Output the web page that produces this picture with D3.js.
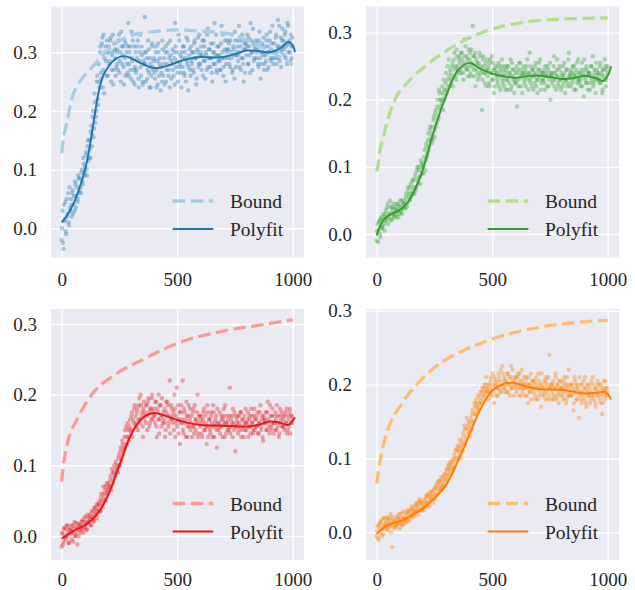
<!DOCTYPE html>
<html><head><meta charset="utf-8">
<script src="https://cdn.jsdelivr.net/npm/d3@7/dist/d3.min.js"></script>
<style>body{margin:0;background:#fff}svg{display:block}</style>
</head><body><svg id="c" width="635" height="590"></svg>
<script>
// ---------- data ----------
const xTicks = [0, 500, 1000];
const yTicks = [0.0, 0.1, 0.2, 0.3];
const legendLabels = ["Bound", "Polyfit"];
const scatterXA = d3.range(0, 1001, 4);   // x of set A
const scatterXB = d3.range(2, 1000, 4);   // x of set B

const scatterTL = [-.02,.03,-.035,.012,.045,-.01,.02,.06,.005,.035,
.05,.02,.065,.04,.03,.075,.055,.045,.09,.06,
.085,.06,.1,.075,.11,.09,.125,.1,.14,.115,
.15,.12,.175,.16,.2,.17,.215,.19,.25,.22,
.28,.24,.31,.255,.325,.27,.23,.3,.285,.32,
.26,.31,.285,.325,.27,.3,.245,.315,.29,.275,
.305,.27,.33,.285,.25,.31,.295,.275,.32,.26,
.3,.265,.35,.28,.31,.255,.29,.32,.27,.245,
.3,.27,.31,.255,.285,.33,.26,.295,.245,.28,
.36,.25,.29,.27,.305,.24,.28,.26,.315,.275,
.29,.255,.31,.27,.245,.3,.28,.235,.265,.32,
.26,.29,.3,.25,.28,.315,.27,.24,.295,.285,
.305,.26,.29,.35,.275,.3,.25,.32,.28,.265,
.3,.275,.31,.26,.29,.325,.28,.235,.295,.27,
.31,.28,.3,.265,.32,.29,.255,.305,.275,.33,
.28,.31,.295,.26,.32,.285,.3,.27,.34,.29,
.305,.275,.29,.25,.315,.3,.28,.33,.265,.295,
.31,.285,.27,.345,.3,.26,.29,.32,.28,.305,
.29,.315,.275,.3,.33,.27,.305,.255,.32,.295,
.31,.285,.345,.3,.27,.32,.29,.25,.315,.305,
.295,.33,.28,.31,.265,.32,.3,.34,.285,.31,
.32,.29,.305,.275,.335,.3,.28,.315,.295,.27,
.31,.285,.33,.3,.275,.32,.29,.305,.345,.28,
.315,.29,.33,.3,.355,.31,.285,.325,.3,.34,
.32,.295,.335,.31,.28,.345,.315,.3,.33,.29,
.31];
const scatterTL2 = [.0,-.025,.04,.015,-.005,.05,.025,.01,.07,.03,
.04,.06,.025,.055,.08,.035,.07,.05,.085,.065,
.07,.095,.08,.12,.095,.105,.13,.09,.15,.12,
.135,.165,.14,.19,.155,.23,.18,.2,.26,.21,
.25,.3,.265,.315,.24,.33,.29,.31,.26,.3,
.3,.28,.32,.25,.295,.33,.27,.305,.26,.3,
.28,.32,.265,.3,.335,.28,.31,.245,.29,.315,
.28,.31,.26,.3,.27,.335,.285,.25,.31,.275,
.265,.29,.32,.24,.3,.275,.31,.25,.285,.3,
.28,.3,.255,.32,.265,.29,.24,.31,.27,.285,
.265,.3,.24,.285,.315,.26,.29,.275,.25,.305,
.28,.245,.31,.27,.3,.26,.29,.32,.255,.28,
.27,.3,.245,.31,.285,.265,.33,.275,.295,.24,
.29,.31,.265,.3,.25,.285,.32,.275,.305,.26,
.285,.3,.27,.315,.29,.245,.3,.325,.28,.295,
.3,.27,.32,.285,.31,.255,.295,.33,.275,.305,
.29,.315,.265,.3,.28,.35,.295,.27,.31,.285,
.295,.27,.315,.29,.33,.275,.305,.25,.3,.32,
.305,.28,.32,.29,.265,.31,.295,.335,.275,.3,
.295,.32,.275,.31,.29,.33,.28,.305,.265,.315,
.31,.28,.325,.295,.35,.3,.27,.315,.29,.305,
.3,.315,.28,.32,.29,.255,.31,.3,.325,.28,
.295,.32,.27,.31,.3,.335,.285,.315,.29,.3,
.3,.325,.28,.31,.29,.345,.305,.275,.32,.31,
.305,.33,.29,.315,.35,.3,.32,.285,.31,.325];

const scatterTR = [-.01,.015,.005,.02,-.005,.025,.01,.03,.015,.02,
.035,.02,.045,.025,.03,.04,.02,.035,.045,.028,
.04,.025,.035,.045,.03,.04,.032,.05,.038,.045,
.05,.038,.06,.045,.07,.055,.05,.075,.06,.065,
.08,.06,.09,.07,.1,.075,.095,.085,.11,.09,
.105,.09,.125,.11,.135,.12,.15,.13,.16,.145,
.16,.14,.175,.155,.185,.165,.2,.175,.21,.19,
.2,.22,.185,.215,.205,.24,.21,.23,.26,.22,
.24,.225,.255,.235,.27,.25,.23,.265,.245,.26,
.255,.24,.27,.25,.23,.265,.28,.245,.26,.235,
.25,.27,.235,.255,.31,.245,.265,.22,.26,.24,
.25,.235,.265,.245,.185,.26,.24,.225,.255,.245,
.235,.25,.22,.26,.24,.23,.255,.21,.245,.235,
.24,.225,.255,.235,.215,.25,.23,.245,.22,.24,
.23,.25,.215,.24,.235,.26,.22,.245,.23,.21,
.24,.225,.19,.245,.23,.255,.22,.24,.235,.25,
.225,.245,.235,.26,.215,.24,.23,.25,.22,.245,
.24,.225,.255,.23,.21,.245,.235,.26,.225,.24,
.23,.245,.215,.24,.235,.25,.22,.24,.2,.235,
.225,.24,.265,.23,.215,.245,.235,.22,.25,.23,
.24,.22,.235,.255,.21,.23,.245,.225,.27,.235,
.22,.24,.23,.25,.215,.235,.245,.225,.26,.23,
.24,.22,.255,.235,.205,.245,.23,.25,.225,.24,
.235,.215,.25,.23,.265,.225,.24,.21,.245,.23,
.24,.225,.255,.235,.21,.245,.23,.26,.22,.245,
.25];
const scatterTR2 = [.005,-.012,.018,.0,.022,.008,.012,.025,.005,.03,
.025,.04,.015,.03,.05,.022,.04,.03,.025,.038,
.03,.045,.035,.025,.042,.05,.035,.03,.045,.04,
.045,.055,.04,.065,.05,.06,.07,.055,.08,.06,
.07,.085,.065,.095,.08,.1,.085,.075,.105,.1,
.1,.115,.095,.13,.115,.14,.125,.155,.14,.135,
.15,.17,.145,.18,.16,.19,.17,.215,.185,.2,
.195,.21,.23,.2,.225,.215,.25,.22,.235,.245,
.23,.25,.22,.26,.245,.235,.275,.25,.24,.265,
.245,.27,.26,.24,.255,.29,.25,.265,.245,.275,
.26,.24,.275,.25,.265,.235,.27,.245,.255,.23,
.255,.27,.24,.25,.23,.265,.25,.24,.22,.26,
.245,.225,.255,.24,.265,.23,.245,.22,.25,.24,
.23,.25,.22,.245,.24,.26,.225,.235,.25,.215,
.245,.23,.25,.225,.24,.215,.255,.235,.245,.225,
.23,.25,.24,.22,.255,.235,.245,.21,.24,.23,
.24,.22,.25,.23,.24,.27,.225,.235,.245,.215,
.235,.25,.22,.24,.23,.255,.245,.215,.24,.23,
.24,.225,.25,.235,.22,.245,.23,.255,.235,.24,
.23,.25,.22,.24,.235,.26,.225,.245,.23,.215,
.235,.25,.225,.24,.23,.245,.22,.26,.235,.24,
.245,.225,.25,.235,.24,.215,.255,.23,.24,.225,
.23,.245,.22,.24,.26,.235,.225,.245,.215,.24,
.24,.225,.25,.235,.22,.245,.23,.255,.235,.24,
.23,.25,.225,.24,.215,.245,.235,.25,.23,.24];

const scatterBL = [-.015,.005,-.008,.012,-.002,.01,.0,.015,-.01,.008,
.01,-.005,.015,.005,.02,.0,.012,-.012,.018,.008,
.015,.005,.022,.01,.02,.012,.028,.008,.018,.025,
.02,.03,.015,.028,.035,.022,.04,.03,.045,.035,
.04,.05,.035,.06,.045,.07,.055,.065,.05,.075,
.06,.075,.07,.085,.065,.09,.08,.1,.085,.095,
.1,.09,.115,.1,.125,.11,.13,.12,.14,.125,
.155,.13,.15,.14,.165,.145,.175,.15,.16,.185,
.17,.155,.18,.165,.195,.16,.185,.175,.14,.19,
.175,.16,.185,.17,.195,.155,.18,.165,.2,.175,
.18,.16,.19,.14,.175,.2,.165,.185,.155,.17,
.175,.16,.14,.19,.17,.185,.155,.22,.165,.18,
.16,.175,.2,.14,.17,.155,.185,.165,.13,.175,
.16,.22,.145,.175,.165,.19,.14,.17,.155,.18,
.16,.14,.175,.155,.185,.15,.165,.2,.145,.17,
.155,.17,.14,.165,.18,.15,.16,.13,.175,.155,
.165,.145,.175,.155,.185,.14,.16,.17,.125,.16,
.15,.175,.155,.165,.14,.17,.16,.185,.145,.16,
.165,.15,.21,.155,.17,.14,.16,.175,.12,.155,
.16,.145,.17,.155,.175,.15,.165,.14,.16,.18,
.15,.165,.14,.17,.155,.18,.16,.145,.17,.15,
.165,.155,.175,.145,.16,.185,.15,.17,.135,.165,
.16,.175,.15,.19,.165,.145,.17,.155,.18,.16,
.17,.15,.165,.185,.155,.14,.17,.16,.175,.155,
.165,.15,.175,.16,.145,.17,.155,.18,.16,.17,
.165];
const scatterBL2 = [.003,-.012,.01,.0,-.005,.015,.005,-.01,.01,.002,
.005,.015,-.008,.01,.0,.018,.005,.012,.0,.015,
.01,.02,.015,.005,.025,.015,.02,.01,.03,.02,
.025,.015,.035,.025,.02,.04,.03,.035,.025,.045,
.045,.035,.055,.05,.04,.06,.05,.07,.06,.065,
.07,.065,.08,.07,.095,.075,.09,.085,.105,.09,
.095,.11,.1,.12,.105,.135,.115,.125,.15,.13,
.14,.16,.135,.155,.15,.17,.14,.165,.18,.155,
.16,.175,.15,.185,.165,.2,.17,.155,.18,.165,
.17,.185,.15,.19,.175,.16,.18,.195,.165,.17,
.17,.19,.155,.18,.165,.145,.185,.17,.195,.16,
.165,.18,.15,.175,.19,.16,.17,.145,.185,.165,
.17,.15,.18,.16,.21,.165,.145,.175,.16,.185,
.165,.15,.18,.16,.14,.17,.155,.185,.165,.15,
.17,.155,.18,.145,.165,.16,.175,.14,.16,.17,
.165,.145,.16,.175,.15,.17,.155,.185,.14,.165,
.15,.17,.16,.14,.175,.155,.165,.15,.18,.155,
.16,.145,.17,.155,.165,.18,.14,.16,.17,.15,
.155,.17,.145,.165,.16,.18,.15,.17,.155,.165,
.17,.15,.16,.175,.14,.165,.155,.17,.15,.16,
.16,.175,.155,.165,.145,.17,.16,.15,.18,.165,
.155,.17,.145,.16,.175,.155,.165,.14,.17,.16,
.165,.15,.175,.16,.155,.185,.15,.17,.16,.145,
.16,.175,.15,.17,.16,.145,.18,.165,.155,.17,
.155,.17,.16,.18,.15,.165,.175,.145,.17,.16];

const scatterBR = [-.005,.008,-.01,.012,.0,.015,.005,-.003,.018,.008,
.01,.02,.003,.015,.008,.025,.012,-.02,.018,.005,
.015,.008,.022,.012,.018,.005,.025,.015,.01,.02,
.02,.012,.028,.018,.025,.015,.03,.022,.035,.025,
.03,.022,.038,.028,.035,.025,.042,.032,.04,.03,
.038,.03,.045,.035,.05,.04,.048,.035,.055,.045,
.05,.04,.058,.045,.062,.05,.068,.055,.07,.058,
.065,.058,.075,.062,.08,.07,.085,.075,.09,.08,
.09,.08,.098,.085,.105,.09,.112,.1,.118,.105,
.115,.1,.125,.11,.13,.145,.12,.14,.13,.15,
.14,.13,.155,.14,.165,.15,.17,.16,.175,.165,
.175,.165,.185,.175,.19,.18,.195,.185,.2,.19,
.195,.18,.2,.19,.21,.185,.2,.175,.205,.195,
.2,.185,.215,.195,.205,.19,.225,.2,.21,.195,
.205,.19,.215,.2,.185,.21,.195,.22,.2,.205,
.195,.21,.2,.215,.185,.205,.195,.22,.19,.2,
.2,.185,.21,.195,.175,.2,.19,.215,.195,.205,
.19,.205,.18,.2,.195,.215,.185,.2,.17,.195,
.195,.205,.185,.21,.19,.2,.18,.24,.195,.2,
.19,.205,.18,.195,.21,.185,.2,.175,.195,.205,
.19,.2,.18,.21,.195,.175,.2,.185,.22,.19,
.2,.185,.195,.165,.21,.19,.2,.18,.195,.155,
.185,.2,.175,.19,.205,.18,.195,.17,.2,.185,
.19,.175,.2,.185,.21,.18,.195,.17,.19,.205,
.185,.2,.175,.195,.16,.19,.205,.18,.195,.185,
.19];
const scatterBR2 = [.002,-.008,.01,.005,.015,-.005,.01,.02,.005,.012,
.015,.005,.02,.01,.018,.0,.022,.01,.015,.008,
.012,.02,.01,.018,.025,.012,.02,.01,.028,.015,
.018,.025,.015,.03,.02,.028,.022,.032,.02,.03,
.025,.035,.028,.04,.03,.038,.045,.03,.042,.035,
.032,.042,.038,.048,.04,.052,.042,.05,.045,.055,
.045,.055,.05,.06,.052,.065,.058,.07,.062,.075,
.06,.07,.065,.078,.072,.085,.078,.092,.085,.095,
.085,.095,.088,.1,.095,.11,.1,.115,.11,.125,
.11,.12,.115,.135,.12,.14,.125,.155,.145,.135,
.135,.15,.145,.16,.15,.175,.16,.18,.17,.185,
.17,.18,.19,.175,.195,.185,.2,.19,.21,.195,
.19,.2,.185,.205,.195,.215,.19,.21,.2,.185,
.205,.195,.21,.19,.22,.2,.215,.195,.205,.19,
.2,.215,.19,.21,.2,.225,.195,.205,.185,.21,
.2,.19,.21,.195,.215,.2,.185,.205,.195,.21,
.195,.205,.185,.2,.21,.19,.2,.18,.205,.195,
.2,.185,.21,.195,.18,.205,.19,.2,.215,.185,
.19,.2,.18,.205,.195,.21,.185,.195,.2,.18,
.2,.185,.195,.215,.18,.2,.19,.205,.185,.195,
.195,.185,.205,.19,.2,.18,.21,.195,.185,.2,
.185,.2,.19,.175,.205,.195,.18,.2,.19,.21,
.19,.18,.2,.185,.195,.21,.175,.19,.2,.185,
.195,.18,.205,.19,.185,.2,.175,.195,.185,.2,
.19,.18,.2,.185,.175,.195,.19,.205,.185,.195];

const polyXTL = [0,20,40,60,80,100,120,140,160,180,200,220,240,260,280,300,350,400,450,500,550,600,650,700,750,800,850,900,950,980,1000,1010];
const polyYTL = [.010,.020,.033,.050,.072,.098,.135,.185,.232,.260,.274,.284,.290,.293,.293,.290,.280,.273,.276,.283,.289,.292,.291,.292,.297,.303,.302,.300,.308,.318,.312,.300];
const polyXTR = [0,15,30,50,70,100,130,160,200,250,300,350,400,450,500,550,600,650,700,750,800,850,900,950,980,1000,1015];
const polyYTR = [-.002,.012,.021,.027,.031,.036,.045,.062,.096,.156,.205,.243,.255,.246,.239,.235,.233,.235,.236,.234,.231,.232,.236,.232,.228,.236,.250];
const polyXBL = [0,50,100,150,200,250,300,350,400,450,500,550,600,700,800,850,900,950,980,1010];
const polyYBL = [-.004,.007,.015,.029,.057,.100,.143,.167,.174,.170,.164,.160,.157,.156,.155,.157,.162,.160,.157,.168];
const polyXBR = [0,50,100,150,200,250,300,350,400,450,500,550,600,650,700,800,900,950,990,1015];
const polyYBR = [-.002,.010,.015,.023,.032,.046,.064,.095,.131,.167,.192,.201,.202,.197,.194,.193,.188,.189,.190,.180];

const boundXTL = [0,10,22,43,79,123,166,224,311,397,500,600,715,816,931,989,1000];
const boundYTL = [.128,.158,.179,.219,.250,.270,.290,.312,.330,.335,.338,.336,.332,.318,.295,.281,.278];
const boundXTR = [0,5,15,33,55,79,140,210,311,455,629,860,1000];
const boundYTR = [.093,.100,.125,.150,.178,.200,.228,.250,.275,.300,.315,.321,.322];
const boundXBL = [0,7,29,65,130,230,354,513,700,889,1000];
const boundYBL = [.077,.098,.136,.164,.200,.228,.250,.274,.290,.300,.306];
const boundXBR = [0,17,50,100,173,296,383,513,629,831,1000];
const boundYBR = [.066,.100,.140,.170,.200,.233,.247,.263,.273,.283,.287];

// ---------- layout / style ----------
const panels = [
  {left:51, top:6.5, w:253, h:251, xPad:15, yDom:[-0.0498,0.378], light:"#a6cee3", dark:"#1f78b4", sa:scatterTL, sb:scatterTL2, px:polyXTL, py:polyYTL, bx:boundXTL, by:boundYTL},
  {left:366, top:6.5, w:253, h:251, xPad:15, yDom:[-0.035,0.339], light:"#b2df8a", dark:"#33a02c", sa:scatterTR, sb:scatterTR2, px:polyXTR, py:polyYTR, bx:boundXTR, by:boundYTR},
  {left:51, top:309, w:253, h:251, xPad:13, yDom:[-0.034,0.3212], light:"#fb9a99", dark:"#e31a1c", sa:scatterBL, sb:scatterBL2, px:polyXBL, py:polyYBL, bx:boundXBL, by:boundYBL},
  {left:366, top:309, w:253, h:251, xPad:13, yDom:[-0.0374,0.3023], light:"#fdbf6f", dark:"#ff7f00", sa:scatterBR, sb:scatterBR2, px:polyXBR, py:polyYBR, bx:boundXBR, by:boundYBR}
];
const FONT = '"Liberation Serif"';
const svg = d3.select("#c");

panels.forEach((p, k) => {
  const g = svg.append("g").attr("transform", `translate(${p.left},${p.top})`);
  const x = d3.scaleLinear().domain([-46, 1049]).range([0, p.w]);
  const y = d3.scaleLinear().domain(p.yDom).range([p.h, 0]);

  g.append("rect").attr("width", p.w).attr("height", p.h).attr("fill", "#eaeaf2");

  const ya = g.append("g").call(d3.axisLeft(y).tickValues(yTicks).tickSize(-p.w).tickPadding(14).tickFormat(d3.format(".1f")));
  const xa = g.append("g").attr("transform", `translate(0,${p.h})`)
    .call(d3.axisBottom(x).tickValues(xTicks).tickSize(-p.h).tickPadding(p.xPad).tickFormat(d3.format("d")));
  [ya, xa].forEach(a => {
    a.attr("font-family", null).attr("font-size", null);
    a.select(".domain").remove();
    a.selectAll(".tick line").attr("stroke", "#fff").attr("stroke-width", 1.4);
    a.selectAll(".tick text").attr("fill", "#262626").style("font-family", FONT).style("font-size", "19px");
  });

  const clipId = "clip" + k;
  g.append("clipPath").attr("id", clipId).append("rect").attr("width", p.w).attr("height", p.h);
  const plot = g.append("g").attr("clip-path", `url(#${clipId})`);

  const pts = p.sa.map((v, i) => [scatterXA[i], v]).concat(p.sb.map((v, i) => [scatterXB[i], v]));
  plot.append("g").selectAll("circle").data(pts).join("circle")
    .attr("cx", d => x(d[0])).attr("cy", d => y(d[1])).attr("r", 2.2)
    .attr("fill", p.dark).attr("fill-opacity", 0.36);

  const bData = p.bx.map((v, i) => [v, p.by[i]]);
  plot.append("path").datum(bData)
    .attr("d", d3.line().x(d => x(d[0])).y(d => y(d[1])).curve(d3.curveMonotoneX))
    .attr("fill", "none").attr("stroke", p.light).attr("stroke-width", 3.3).attr("stroke-dasharray", "12.5 5.5");

  const pData = p.px.map((v, i) => [v, p.py[i]]);
  plot.append("path").datum(pData)
    .attr("d", d3.line().x(d => x(d[0])).y(d => y(d[1])).curve(d3.curveCatmullRom.alpha(0.5)))
    .attr("fill", "none").attr("stroke", p.dark).attr("stroke-width", 2);

  // legend
  const lg = g.append("g").attr("transform", `translate(${p.w},${p.h})`);
  legendLabels.forEach((lab, i) => {
    const ly = i === 0 ? -56.5 : -28.5;
    const ln = lg.append("line").attr("x1", -131.3).attr("x2", -90.7).attr("y1", ly).attr("y2", ly)
      .attr("stroke", i === 0 ? p.light : p.dark).attr("stroke-width", i === 0 ? 3.3 : 2);
    if (i === 0) ln.attr("stroke-dasharray", "12.5 5.5");
    lg.append("text").attr("x", -74).attr("y", ly + 7).text(lab)
      .attr("fill", "#262626").style("font-family", FONT).style("font-size", "19.5px");
  });
});
</script></body></html>
